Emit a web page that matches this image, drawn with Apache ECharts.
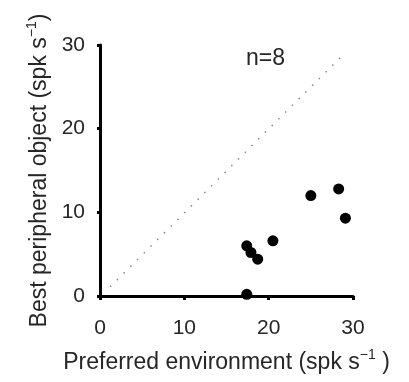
<!DOCTYPE html>
<html>
<head>
<meta charset="utf-8">
<script src="https://cdn.jsdelivr.net/npm/echarts@6/dist/echarts.min.js"></script>
<style>html,body{margin:0;padding:0;background:#fff;}#c{width:409px;height:382px;}</style>
</head>
<body>
<div id="c"></div>
<script>
var preferredEnv = [17.4, 17.9, 18.7, 17.4, 20.5, 25.0, 28.3, 29.1];
var bestPeripheral = [6.0, 5.2, 4.4, 0.2, 6.6, 12.0, 12.8, 9.3];
var identityLine = [[1.2, 1.1], [29.1, 29.1]];
var xTicks = [0, 10, 20, 30];
var yTicks = [0, 10, 20, 30];
var nLabel = 'n=8';

var font = 'Liberation Sans';
var txt = '#262626';
var chart = echarts.init(document.getElementById('c'));
var pts = preferredEnv.map(function (v, i) { return [v, bestPeripheral[i]]; });
var nameRich = {
  a: { fontFamily: font, fontSize: 23, color: txt, lineHeight: 26, verticalAlign: 'bottom' },
  s: { fontFamily: font, fontSize: 14, color: txt, lineHeight: 26, verticalAlign: 'top', padding: [0, 0, 12, 0] }
};
chart.setOption({
  animation: false,
  grid: { left: 100, right: 56, top: 45, bottom: 86 },
  xAxis: {
    type: 'value', min: xTicks[0], max: xTicks[xTicks.length - 1], interval: 10,
    axisLine: { lineStyle: { color: '#000', width: 3 } },
    axisTick: { show: true, length: 4, lineStyle: { color: '#000', width: 3 } },
    axisLabel: { fontFamily: font, fontSize: 21, color: txt, margin: 22 },
    splitLine: { show: false },
    name: '{a|Preferred environment (spk s}{s|−1}{a| )}',
    nameLocation: 'middle', nameGap: 52,
    nameTextStyle: { rich: nameRich }
  },
  yAxis: {
    type: 'value', min: yTicks[0], max: yTicks[yTicks.length - 1], interval: 10,
    axisLine: { show: true, lineStyle: { color: '#000', width: 3 } },
    axisTick: { show: true, length: 3, lineStyle: { color: '#000', width: 3 } },
    axisLabel: { fontFamily: font, fontSize: 21, color: txt, margin: 15 },
    splitLine: { show: false },
    name: '{a|Best peripheral object (spk s}{s|−1}{a|)}',
    nameLocation: 'middle', nameGap: 47,
    nameTextStyle: { rich: nameRich }
  },
  series: [
    {
      type: 'line', data: identityLine, symbol: 'none', silent: true,
      lineStyle: { color: '#8a8a8a', width: 1.5, type: [1.5, 8] }
    },
    {
      type: 'scatter', data: pts, symbol: 'circle', symbolSize: 11,
      itemStyle: { color: '#000', opacity: 1 }
    }
  ],
  graphic: [{
    type: 'text', left: 246, top: 47,
    style: { text: nLabel, font: '23px "Liberation Sans"', fill: txt }
  }]
});
</script>
</body>
</html>
